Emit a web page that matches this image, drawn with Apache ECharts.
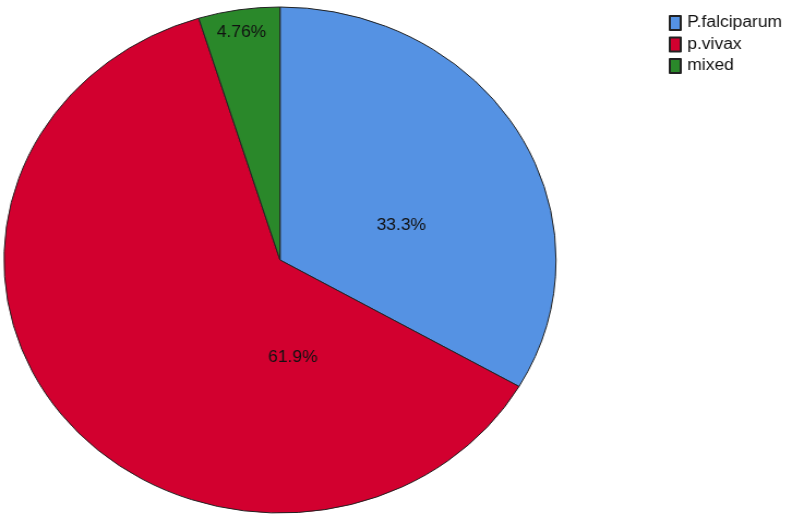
<!DOCTYPE html>
<html>
<head>
<meta charset="utf-8">
<script src="https://cdn.jsdelivr.net/npm/echarts@6/dist/echarts.min.js"></script>
<style>
  html, body { margin: 0; padding: 0; background: #fff; overflow: hidden; }
  /* the original picture is stretched horizontally, so the chart is too */
  #main { width: 723px; height: 516px; transform: scaleX(1.0909); transform-origin: 0 0; }
</style>
</head>
<body>
<div id="main"></div>
<script>
var categories = ['P.falciparum', 'p.vivax', 'mixed'];
var counts = [7, 13, 1];
var percentLabels = ['33.3%', '61.9%', '4.76%'];
var colors = ['#5592e3', '#d2002f', '#2a882a'];
// SPSS puts the labels in other places than ECharts does
var labelOffsets = [[-1, 30], [113, 17], [-16, -99]];

var chart = echarts.init(document.getElementById('main'));
chart.setOption({
    animation: false,
    legend: {
        orient: 'vertical',
        left: 608,
        top: 10,
        itemWidth: 10,
        itemHeight: 14,
        itemGap: 5.5,
        icon: 'rect',
        data: categories,
        textStyle: {fontFamily: 'Liberation Sans', fontSize: 16, lineHeight: 16, color: '#111', padding: [0, 0, 0, 1]}
    },
    series: [{
        type: 'pie',
        center: [256.7, 260],
        radius: 253,
        startAngle: 90,
        clockwise: true,
        silent: true,
        itemStyle: {borderColor: '#222', borderWidth: 1},
        label: {
            position: 'inside',
            fontFamily: 'Liberation Sans',
            fontSize: 16,
            color: '#111'
        },
        labelLine: {show: false},
        data: categories.map(function (name, i) {
            return {
                name: name,
                value: counts[i],
                itemStyle: {color: colors[i]},
                label: {formatter: percentLabels[i], offset: labelOffsets[i]}
            };
        })
    }]
});
</script>
</body>
</html>
